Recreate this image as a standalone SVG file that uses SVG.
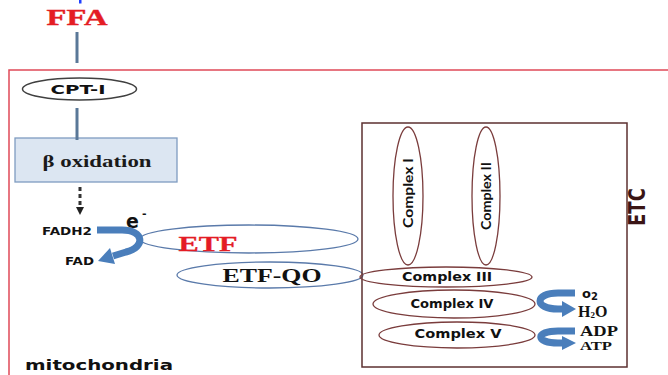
<svg xmlns="http://www.w3.org/2000/svg" width="668" height="375" viewBox="0 0 668 375">
<defs>
<style>
.serif{font-family:"Liberation Serif","Times New Roman",serif;font-weight:bold}
.sans{font-family:"DejaVu Sans","Liberation Sans",sans-serif;font-weight:bold}
.gill{font-family:"Lato","Open Sans",sans-serif;font-weight:bold}
.cx{fill:none;stroke:#7a3c3c;stroke-width:1.3}
.etf{fill:none;stroke:#5a7aaa;stroke-width:1.3}
.blue{fill:none;stroke:#4a7ebb;stroke-width:7}
.bluefill{fill:#4a7ebb}
.vline{stroke:#5a7898;stroke-width:3}
</style>
<marker id="dash-head" markerWidth="8" markerHeight="8" refX="4" refY="4" orient="auto" markerUnits="userSpaceOnUse">
<path d="M0,0 L8,4 L0,8 Z" fill="#222"/>
</marker>
</defs>
<rect width="668" height="375" fill="#ffffff"/>
<rect x="79" y="0" width="2.5" height="3.5" fill="#2040ff"/>
<rect id="mitochondria-box" x="9" y="70" width="680" height="320" fill="none" stroke="#e04a58" stroke-width="1.5"/>
<g id="FFA"><text class="serif" x="77" y="25" font-size="24" fill="#e41c24" stroke="#e41c24" stroke-width="0.4" text-anchor="middle" textLength="61" lengthAdjust="spacingAndGlyphs">FFA</text></g>
<g id="CPT-I"><ellipse cx="79.5" cy="89" rx="57" ry="11" fill="#fff" stroke="#404040" stroke-width="1.5"/><text class="sans" x="78" y="94" font-size="13" fill="#111" text-anchor="middle" textLength="55" lengthAdjust="spacingAndGlyphs">CPT-I</text></g>
<g id="beta-oxidation"><rect x="15" y="138" width="162" height="44" fill="#dce6f2" stroke="#7f9cc0" stroke-width="1.3"/><text class="serif" x="97" y="167" font-size="17" fill="#1a1a1a" text-anchor="middle" textLength="109" lengthAdjust="spacingAndGlyphs">β  oxidation</text></g>
<g id="FADH2"><text class="sans" x="42" y="235" font-size="11" fill="#111" textLength="50" lengthAdjust="spacingAndGlyphs">FADH2</text></g>
<g id="FAD"><text class="sans" x="65" y="265" font-size="11" fill="#111" textLength="29" lengthAdjust="spacingAndGlyphs">FAD</text></g>
<g id="e-"><text class="sans" x="126" y="228" font-size="19" fill="#111">e</text><text class="sans" x="142" y="217" font-size="11" fill="#111">-</text></g>
<g id="ETF"><ellipse class="etf" cx="249" cy="239" rx="109" ry="14"/><text class="serif" x="208" y="251" font-size="22" fill="#e41c24" stroke="#e41c24" stroke-width="0.3" text-anchor="middle" textLength="59" lengthAdjust="spacingAndGlyphs">ETF</text></g>
<g id="ETF-QO"><ellipse class="etf" cx="270" cy="275" rx="93" ry="13"/><text class="serif" x="272" y="282" font-size="19" fill="#111" text-anchor="middle" textLength="99" lengthAdjust="spacingAndGlyphs">ETF-QO</text></g>
<g id="ETC"><rect x="362" y="123" width="265" height="244" fill="none" stroke="#5c3030" stroke-width="1.5"/><text class="sans" transform="translate(645,207) scale(1.3,1) rotate(-90)" x="0" y="0" font-size="18" fill="#3a1515" text-anchor="middle" textLength="38" lengthAdjust="spacingAndGlyphs">ETC</text></g>
<g id="complex-I"><ellipse class="cx" cx="408" cy="196" rx="15" ry="69"/><text class="gill" transform="translate(413,193) rotate(-90)" x="0" y="0" font-size="13" fill="#111" text-anchor="middle" textLength="70" lengthAdjust="spacingAndGlyphs">Complex I</text></g>
<g id="complex-II"><ellipse class="cx" cx="486" cy="196" rx="14" ry="69"/><text class="gill" transform="translate(491,196) rotate(-90)" x="0" y="0" font-size="13" fill="#111" text-anchor="middle" textLength="68" lengthAdjust="spacingAndGlyphs">Complex II</text></g>
<g id="complex-III"><ellipse class="cx" cx="446" cy="277" rx="86" ry="10"/><text class="sans" x="447" y="281" font-size="11.5" fill="#111" text-anchor="middle" textLength="90" lengthAdjust="spacingAndGlyphs">Complex III</text></g>
<g id="complex-IV"><ellipse class="cx" cx="454" cy="304" rx="81" ry="14"/><text class="sans" x="452" y="308" font-size="11.5" fill="#111" text-anchor="middle" textLength="83" lengthAdjust="spacingAndGlyphs">Complex IV</text></g>
<g id="complex-V"><ellipse class="cx" cx="457" cy="335" rx="78" ry="13"/><text class="sans" x="458" y="338" font-size="11.5" fill="#111" text-anchor="middle" textLength="87" lengthAdjust="spacingAndGlyphs">Complex V</text></g>
<g id="O2"><text class="sans" x="582" y="298" font-size="13" fill="#111">o<tspan font-size="10" dy="2">2</tspan></text></g>
<g id="H2O"><text class="serif" x="578" y="317" font-size="16" fill="#111">H<tspan font-size="9" dy="1">2</tspan><tspan dy="-1">O</tspan></text></g>
<g id="ADP"><text class="serif" x="580" y="336" font-size="15" fill="#111" textLength="38" lengthAdjust="spacingAndGlyphs">ADP</text></g>
<g id="ATP"><text class="serif" x="580" y="350" font-size="13" fill="#111" textLength="32" lengthAdjust="spacingAndGlyphs">ATP</text></g>
<g id="mitochondria-label"><text class="sans" x="25" y="370" font-size="14" fill="#111" textLength="148" lengthAdjust="spacingAndGlyphs">mitochondria</text></g>
<g id="connectors">
<line class="vline" x1="77" y1="32" x2="77" y2="63"/>
<line class="vline" x1="77" y1="108" x2="77" y2="140"/>
<line x1="80" y1="187" x2="80" y2="211" stroke="#333" stroke-width="3" stroke-dasharray="4 3" marker-end="url(#dash-head)"/>
<path class="blue" d="M97,230 L122,230 C144,230 146,247 126,252 L113,256"/>
<polygon class="bluefill" points="98,261 110,248 115,264"/>
<path class="blue" d="M575,293 L558,293 C534,293 534,309 558,309 L564,309"/>
<polygon class="bluefill" points="576,309 562,301 562,317"/>
<path class="blue" d="M575,331 L558,331 C535,331 535,343 558,343 L564,343"/>
<polygon class="bluefill" points="576,343 562,336 562,350"/>
</g>
</svg>
